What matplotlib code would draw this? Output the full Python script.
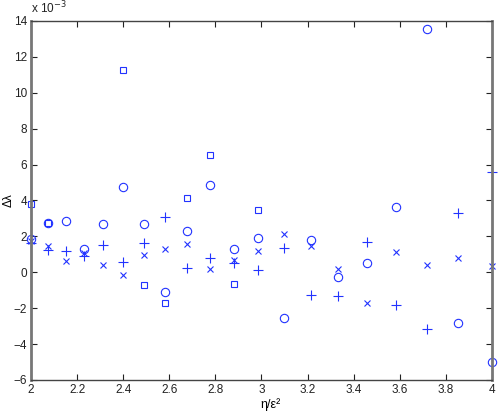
import numpy as np
import matplotlib
matplotlib.use("Agg")
import matplotlib.pyplot as plt

plt.rcParams['font.family'] = ['Liberation Sans', 'DejaVu Sans']

# eta/eps^2 sample points
x = [2.000, 2.074, 2.151, 2.231, 2.314, 2.400, 2.489, 2.581, 2.677, 2.777,
     2.880, 2.987, 3.098, 3.213, 3.332, 3.456, 3.584, 3.717, 3.855, 4.000]

# delta lambda values (x 1e-3)
squares = [3.80, 2.77, np.nan, np.nan, np.nan, 11.29, -0.70, -1.69, 4.13, 6.54,
           -0.64, 3.49, np.nan, np.nan, np.nan, np.nan, np.nan, np.nan, np.nan, np.nan]
circles = [1.83, 2.77, 2.86, 1.27, 2.66, 4.74, 2.66, -1.12, 2.30, 4.87,
           1.27, 1.89, -2.55, 1.82, -0.28, 0.53, 3.62, 13.57, -2.83, -5.00]
crosses = [1.75, 1.47, 0.61, 1.05, 0.40, -0.17, 0.94, 1.32, 1.60, 0.20,
           0.70, 1.16, 2.11, 1.45, 0.17, -1.69, 1.10, 0.40, 0.79, 0.37]
pluses = [1.65, 1.25, 1.16, 0.92, 1.49, 0.57, 1.62, 3.10, 0.26, 0.81,
          0.50, 0.11, 1.34, -1.29, -1.32, 1.69, -1.80, -3.16, 3.30, 5.60]

xticks = [2, 2.2, 2.4, 2.6, 2.8, 3, 3.2, 3.4, 3.6, 3.8, 4]
xticklabels = ['2', '2.2', '2.4', '2.6', '2.8', '3', '3.2', '3.4', '3.6', '3.8', '4']
yticks = [-6, -4, -2, 0, 2, 4, 6, 8, 10, 12, 14]

fig = plt.figure(figsize=(5.02, 4.15), dpi=100)
ax = fig.add_axes([0.0618, 0.0845, 0.918, 0.865])

col = '#2233ff'
kw = dict(linestyle='none', color=col, markerfacecolor='none', markeredgecolor=col,
          markeredgewidth=0.8, clip_on=False)
ax.plot(x, squares, marker='s', markersize=5, **kw)
ax.plot(x, circles, marker='o', markersize=6, **kw)
ax.plot(x, crosses, marker='x', markersize=4.5, **kw)
ax.plot(x, pluses, marker='+', markersize=7, **kw)

ax.set_xlim(2, 4)
ax.set_ylim(-6, 14)
ax.set_xticks(xticks)
ax.set_xticklabels(xticklabels)
ax.set_yticks(yticks)
ax.tick_params(direction='in', length=4, width=0.8, labelsize=8.5, colors='#222222',
               top=True, right=True, pad=3)
for s in ax.spines.values():
    s.set_color('#444444')
    s.set_linewidth(1.0)
ax.spines['left'].set_color('#777777')
ax.spines['left'].set_linewidth(2.0)
ax.spines['right'].set_color('#777777')
ax.spines['right'].set_linewidth(2.0)

ax.text(0.0, 1.012, r'x 10$^{-3}$', transform=ax.transAxes, fontsize=8.5,
        ha='left', va='bottom', color='#222222')
ax.set_xlabel('η/ε²', fontsize=9, va='top')
ax.xaxis.set_label_coords(0.52, -0.05)
ax.set_ylabel('Δλ', fontsize=8.5, va='center')
ax.yaxis.set_label_coords(-0.049, 0.5)

fig.savefig('out.png', dpi=100)
